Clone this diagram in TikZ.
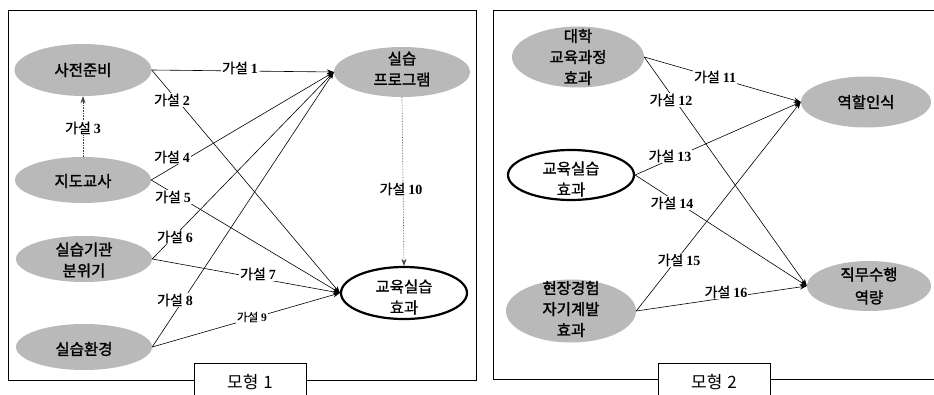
\documentclass[tikz,border=0pt]{standalone}
\usepackage{fontspec}
\setmainfont{Liberation Serif}
\newfontfamily\kr{Noto Sans CJK KR}
\newfontfamily\krm[FakeBold=0.7]{Noto Sans CJK KR}
\newfontfamily\krb[FakeBold=1.6]{Noto Sans CJK KR}
\usetikzlibrary{shapes.geometric,arrows.meta}
\newcommand\gasul[1]{{\krm 가설}\hspace{3pt}\textbf{#1}}
\begin{document}
\begin{tikzpicture}[x=1pt,y=-1pt,
  ell/.style={ellipse, inner sep=0pt, fill=gray!55},
  thk/.style={ellipse, inner sep=0pt, draw, line width=2.2pt, fill=white},
  txt/.style={font=\krb\fontsize{15.5}{21}\selectfont, align=center, text=black, inner sep=0pt},
  txtw/.style={font=\krm\fontsize{15.5}{21}\selectfont, align=center, text=black, inner sep=0pt},
  lab/.style={fill=white, inner sep=1pt, font=\fontsize{14}{16}\selectfont},
  arr/.style={-{Stealth[length=7pt,width=5pt]}, line width=0.6pt},
  dotarr/.style={arr, densely dotted, black!75},
  frame/.style={line width=0.8pt},
  mbox/.style={draw, fill=white, line width=0.8pt, minimum width=112pt, minimum height=34pt, anchor=north west, inner sep=0pt}
]
\useasboundingbox (0,0) rectangle (934,395);
\fill[white] (0,0) rectangle (934,395);

% frames
\draw[frame] (8,10) rectangle (476,380);
\draw[frame] (940,10) -- (493,10) -- (493,379) -- (940,379);

% ---------- left model ----------
\node[ell, minimum width=137pt, minimum height=52pt] (A) at (83,70) {};
\node[ell, minimum width=136pt, minimum height=50pt] (P) at (402,72) {};
\node[ell, minimum width=136pt, minimum height=46pt] (T) at (83,180) {};
\node[ell, minimum width=136pt, minimum height=46pt] (C) at (84,259) {};
\node[ell, minimum width=136pt, minimum height=46pt] (E) at (84,347) {};
\node[thk, minimum width=126pt, minimum height=52pt] (R) at (404,293) {};

\node[txt] (At) at (83,70) {사전준비};
\node[txt] (Pt) at (402,69) {실습\\프로그램};
\node[txt] (Tt) at (83,181) {지도교사};
\node[txt] (Ct) at (84,260) {실습기관\\분위기};
\node[txt] (Et) at (84,349) {실습환경};
\node[txtw] (Rt) at (404,297) {교육실습\\효과};

\draw[arr] (A.east) -- (P.west);
\draw[arr] (A.east) -- (R.west);
\draw[dotarr] (T.north) -- (A.south);
\draw[arr] (T.east) -- (P.west);
\draw[arr] (T.east) -- (R.west);
\draw[arr] (C.east) -- (P.west);
\draw[arr] (C.east) -- (R.west);
\draw[arr] (E.east) -- (P.west);
\draw[arr] (E.east) -- (R.west);
\draw[dotarr] (P.south) -- (R.north);

\node[lab] (L1) at (240,68) {\gasul{1}};
\node[lab] (L2) at (172,100) {\gasul{2}};
\node[lab] (L3) at (83,128) {\gasul{3}};
\node[lab] (L4) at (172,157) {\gasul{4}};
\node[lab] (L5) at (173,197) {\gasul{5}};
\node[lab] (L6) at (175,237) {\gasul{6}};
\node[lab] (L7) at (258,274) {\gasul{7}};
\node[lab] (L8) at (175,300) {\gasul{8}};
\node[lab, font=\fontsize{11.5}{13}\selectfont] (L9) at (252,317) {\gasul{9}};
\node[lab] (L10) at (401,189) {\gasul{10}};

\node[mbox] (M1) at (194,363) {};
\node[font=\kr\fontsize{17}{19}\selectfont] (M1t) at (250,382) {모형\hspace{5pt}1};

% ---------- right model ----------
\node[ell, minimum width=132pt, minimum height=61pt] (U) at (578,57) {};
\node[ell, minimum width=130pt, minimum height=51pt] (RR) at (866,102) {};
\node[thk, minimum width=126pt, minimum height=50pt] (R2) at (571,175) {};
\node[ell, minimum width=124pt, minimum height=50pt] (J) at (869,286) {};
\node[ell, minimum width=130pt, minimum height=63pt] (H) at (571,311) {};

\node[txt] (Ut) at (578,57) {대학\\교육과정\\효과};
\node[txt] (RRt) at (866,102) {역할인식};
\node[txtw] (R2t) at (571,179) {교육실습\\효과};
\node[txt, font=\krb\fontsize{15.5}{23}\selectfont] (Jt) at (869,286) {직무수행\\역량};
\node[txt] (Ht) at (571,309) {현장경험\\자기계발\\효과};

\draw[arr] (U.east) -- (RR.west);
\draw[arr] (U.east) -- (J.west);
\draw[arr] (R2.east) -- (RR.west);
\draw[arr] (R2.east) -- (J.west);
\draw[arr] (H.east) -- (RR.west);
\draw[arr] (H.east) -- (J.west);

\node[lab] (L11) at (715,77) {\gasul{11}};
\node[lab] (L12) at (671,100) {\gasul{12}};
\node[lab] (L13) at (670,156) {\gasul{13}};
\node[lab] (L14) at (672,203) {\gasul{14}};
\node[lab] (L15) at (679,260) {\gasul{15}};
\node[lab] (L16) at (726,292) {\gasul{16}};

\node[mbox] (M2) at (658,363) {};
\node[font=\kr\fontsize{17}{19}\selectfont] (M2t) at (714,382) {모형\hspace{5pt}2};
\end{tikzpicture}
\end{document}
